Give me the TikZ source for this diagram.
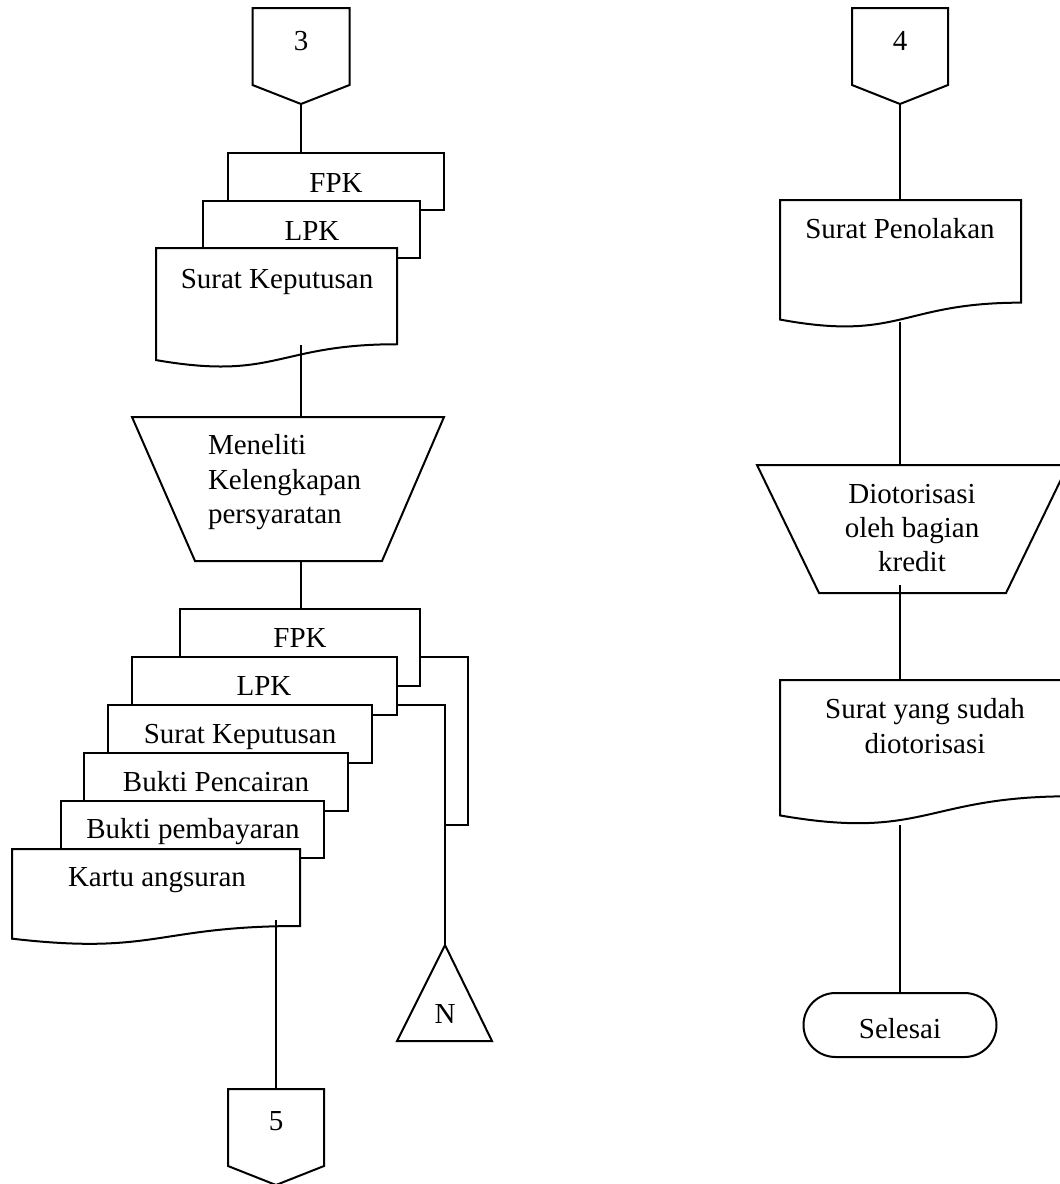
\documentclass[tikz,border=0pt]{standalone}
\usepackage{fontspec}
\setmainfont{Liberation Serif}

% off-page connector: centre x, top y, half width
\newcommand\offpage[3]{%
  \draw[shapeline] ({#1-#3},#2) -- ({#1+#3},#2) -- ({#1+#3},{#2+77})
    -- (#1,{#2+96}) -- ({#1-#3},{#2+77}) -- cycle;}
% document symbol: left, right, top, height
\newcommand\docshape[4]{%
  \draw[shapeline] (#1,#3) -- (#2,#3) -- (#2,{#3+0.802*#4})
    .. controls ({(#1+#2)/2},{#3+0.802*#4}) and ({(#1+#2)/2},{#3+1.108*#4})
    .. (#1,{#3+0.934*#4}) -- cycle;}

\begin{document}
\begin{tikzpicture}[x=1pt,y=-1pt,line width=2pt,line join=miter,
  every node/.style={font=\fontsize{29}{35}\selectfont,inner sep=0pt},
  shapeline/.style={draw,fill=white},
  label/.style={anchor=base},
  link/.style={draw}]
\useasboundingbox (0,0) rectangle (1060,1184);
\clip (0,0) rectangle (1060,1184);

% ---------------- left column ----------------
\offpage{301}{8}{48.5}
\node[label] (t3) at (301,50) {3};

% first document stack
\draw[shapeline] (228,153) rectangle (444,210);
\draw[shapeline] (203,201) rectangle (420,258);
\docshape{156}{397}{248}{120}
\node[label] (tfpk1) at (336,192) {FPK};
\node[label] (tlpk1) at (312,240) {LPK};
\node[label] (tsk1) at (277,288) {Surat Keputusan};

% manual check
\draw[shapeline] (132,417) -- (444,417) -- (382,561) -- (195,561) -- cycle;
\node[label,anchor=base west] (tm1) at (207,454) {Meneliti};
\node[label,anchor=base west] (tm2) at (207,489) {Kelengkapan};
\node[label,anchor=base west] (tm3) at (207,523) {persyaratan};

% second document stack
\draw[shapeline] (180,609) rectangle (420,686);
\draw[shapeline] (132,657) rectangle (397,715);
\draw[shapeline] (108,705) rectangle (372,763);
\draw[shapeline] (84,753) rectangle (348,811);
\draw[shapeline] (61,801) rectangle (324,858);
\docshape{12}{300}{849}{96}
\node[label] (tfpk2) at (300,647) {FPK};
\node[label] (tlpk2) at (264,695) {LPK};
\node[label] (tsk2) at (240,743) {Surat Keputusan};
\node[label] (tbpc) at (216,791) {Bukti Pencairan};
\node[label] (tbpb) at (193,838) {Bukti pembayaran};
\node[label] (tka) at (157,886) {Kartu angsuran};

% archive
\draw[shapeline] (445,945) -- (492,1041) -- (397,1041) -- cycle;
\node[label] (tn) at (445,1023) {N};

\offpage{276}{1089}{48}
\node[label] (t5) at (276,1130) {5};

% connection points
\coordinate (c3tip) at (301,104);
\coordinate (fpk1top) at (301,153);
\coordinate (sk1out) at (301,345);
\coordinate (trap1top) at (301,417);
\coordinate (trap1bot) at (301,561);
\coordinate (fpk2top) at (301,609);
\coordinate (fpk2right) at (420,657);
\coordinate (lpk2right) at (397,705);
\coordinate (ntop) at (445,945);
\coordinate (kaout) at (276,920);
\coordinate (c5top) at (276,1089);

\draw[link] (c3tip) -- (fpk1top);
\draw[link] (sk1out) -- (trap1top);
\draw[link] (trap1bot) -- (fpk2top);
\draw[link] (fpk2right) -- (468,657) -- (468,825) -- (445,825);
\draw[link] (lpk2right) -- (445,705) -- (ntop);
\draw[link] (kaout) -- (c5top);

% ---------------- right column ----------------
\offpage{900}{8}{48}
\node[label] (t4) at (900,50) {4};

\docshape{780}{1021}{200}{128}
\node[label] (tsp) at (900,238) {Surat Penolakan};

\draw[shapeline] (757,465) -- (1068,465) -- (1006,593) -- (819,593) -- cycle;
\node[label] (td1) at (912,503) {Diotorisasi};
\node[label] (td2) at (912,537) {oleh bagian};
\node[label] (td3) at (912,571) {kredit};

\docshape{780}{1070}{680}{145}
\node[label] (tsd1) at (925,718) {Surat yang sudah};
\node[label] (tsd2) at (925,753) {diotorisasi};

\node[draw,rounded corners=32pt,minimum width=193pt,minimum height=64pt,
  line width=2pt] (selesai) at (900,1025) {};
\node[label] (tsel) at (900,1038) {Selesai};

\coordinate (c4tip) at (900,104);
\coordinate (sptop) at (900,200);
\coordinate (spout) at (900,322);
\coordinate (trap2top) at (900,465);
\coordinate (trap2bot) at (900,585);
\coordinate (sdtop) at (900,680);
\coordinate (sdout) at (900,825);

\draw[link] (c4tip) -- (sptop);
\draw[link] (spout) -- (trap2top);
\draw[link] (trap2bot) -- (sdtop);
\draw[link] (sdout) -- (selesai.north);
\end{tikzpicture}
\end{document}
